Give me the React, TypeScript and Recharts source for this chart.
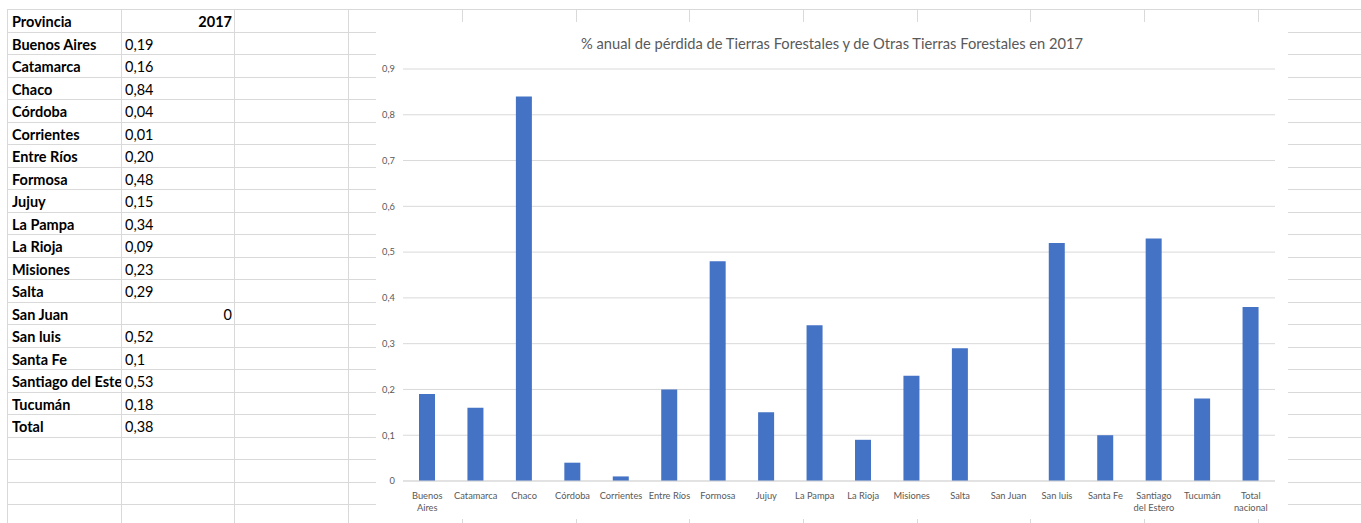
import { BarChart, Bar, XAxis, YAxis, CartesianGrid } from "recharts";

// tabla de la planilla
const provincias = [
  "Buenos Aires",
  "Catamarca",
  "Chaco",
  "Córdoba",
  "Corrientes",
  "Entre Ríos",
  "Formosa",
  "Jujuy",
  "La Pampa",
  "La Rioja",
  "Misiones",
  "Salta",
  "San Juan",
  "San luis",
  "Santa Fe",
  "Santiago del Estero",
  "Tucumán",
  "Total",
];
const valoresTabla = [
  "0,19", "0,16", "0,84", "0,04", "0,01", "0,20", "0,48", "0,15", "0,34",
  "0,09", "0,23", "0,29", "0", "0,52", "0,1", "0,53", "0,18", "0,38",
];

// datos del grafico
const categorias = [
  "Buenos\nAires",
  "Catamarca",
  "Chaco",
  "Córdoba",
  "Corrientes",
  "Entre Ríos",
  "Formosa",
  "Jujuy",
  "La Pampa",
  "La Rioja",
  "Misiones",
  "Salta",
  "San Juan",
  "San luis",
  "Santa Fe",
  "Santiago\ndel Estero",
  "Tucumán",
  "Total\nnacional",
];
const perdida = [
  0.19, 0.16, 0.84, 0.04, 0.01, 0.2, 0.48, 0.15, 0.34, 0.09, 0.23, 0.29, 0,
  0.52, 0.1, 0.53, 0.18, 0.38,
];
const yTicks = [0, 0.1, 0.2, 0.3, 0.4, 0.5, 0.6, 0.7, 0.8, 0.9];

const data = categorias.map((c, i) => ({ provincia: c, valor: perdida[i] }));

const GRID = "#d9d9d9";
const TXT = "#595959";
const ROW_H = 22.5;
const COL_W = 113.7;

function XTick({ x, y, payload }: any) {
  const lines = String(payload.value).split("\n");
  return (
    <text x={x} y={y} textAnchor="middle" fill={TXT} fontSize={9.3} fontFamily="Lato">
      {lines.map((l, i) => (
        <tspan key={i} x={x} dy={i === 0 ? 17.5 : 12}>
          {l}
        </tspan>
      ))}
    </text>
  );
}

export default function App() {
  const rows = Array.from({ length: 23 }, (_, k) => 9 + ROW_H * k);
  const cols = Array.from({ length: 12 }, (_, c) => 7 + COL_W * c);
  const cell = (top: number): any => ({
    position: "absolute",
    top,
    height: ROW_H,
    lineHeight: ROW_H + "px",
    fontSize: 14.5,
    whiteSpace: "nowrap",
    overflow: "hidden",
  });

  return (
    <div
      style={{
        position: "absolute",
        left: 0,
        top: 0,
        width: 1361,
        height: 523,
        overflow: "hidden",
        background: "#fff",
        fontFamily: "Lato, sans-serif",
        color: "#000",
      }}
    >
      {rows.map((y, k) => (
        <div key={"r" + k} style={{ position: "absolute", left: 7, top: Math.round(y), width: 1360, height: 1, background: GRID }} />
      ))}
      {cols.map((x, c) => (
        <div key={"c" + c} style={{ position: "absolute", left: Math.round(x), top: 9, width: 1, height: 520, background: GRID }} />
      ))}

      <div style={{ ...cell(11), left: 12, width: 108, fontWeight: 700 }}>Provincia</div>
      <div style={{ ...cell(11), left: 122, width: 110, fontWeight: 700, textAlign: "right" }}>2017</div>
      {provincias.map((p, i) => (
        <div key={p} style={{ ...cell(11 + ROW_H * (i + 1)), left: 12, width: 109, fontWeight: 700 }}>
          {p}
        </div>
      ))}
      {valoresTabla.map((v, i) => (
        <div
          key={"v" + i}
          style={{
            ...cell(11 + ROW_H * (i + 1)),
            left: 125,
            width: 107,
            textAlign: v === "0" ? "right" : "left",
          }}
        >
          {v}
        </div>
      ))}

      <div style={{ position: "absolute", left: 376, top: 22, width: 912, height: 497, background: "#fff" }}>
        <div
          style={{
            position: "absolute",
            left: 0,
            top: 12,
            width: 912,
            textAlign: "center",
            fontSize: 14.7,
            color: TXT,
          }}
        >
          % anual de pérdida de Tierras Forestales y de Otras Tierras Forestales en 2017
        </div>
        <BarChart
          width={912}
          height={497}
          data={data}
          margin={{ top: 47, right: 13, bottom: 0, left: 0 }}
          barSize={16}
        >
          <CartesianGrid horizontal vertical={false} stroke={GRID} />
          <XAxis
            dataKey="provincia"
            interval={0}
            tickLine={false}
            tickSize={0}
            tickMargin={0}
            axisLine={{ stroke: GRID }}
            tick={<XTick />}
            height={38}
          />
          <YAxis
            domain={[0, 0.9]}
            ticks={yTicks}
            width={27}
            axisLine={false}
            tickLine={false}
            tickSize={0}
            tickMargin={8}
            tick={{ fill: TXT, fontSize: 9.3, fontFamily: "Lato" }}
            tickFormatter={(v: number) => String(Math.round(v * 10) / 10).replace(".", ",")}
          />
          <Bar dataKey="valor" fill="#4472c4" isAnimationActive={false} />
        </BarChart>
      </div>
    </div>
  );
}
